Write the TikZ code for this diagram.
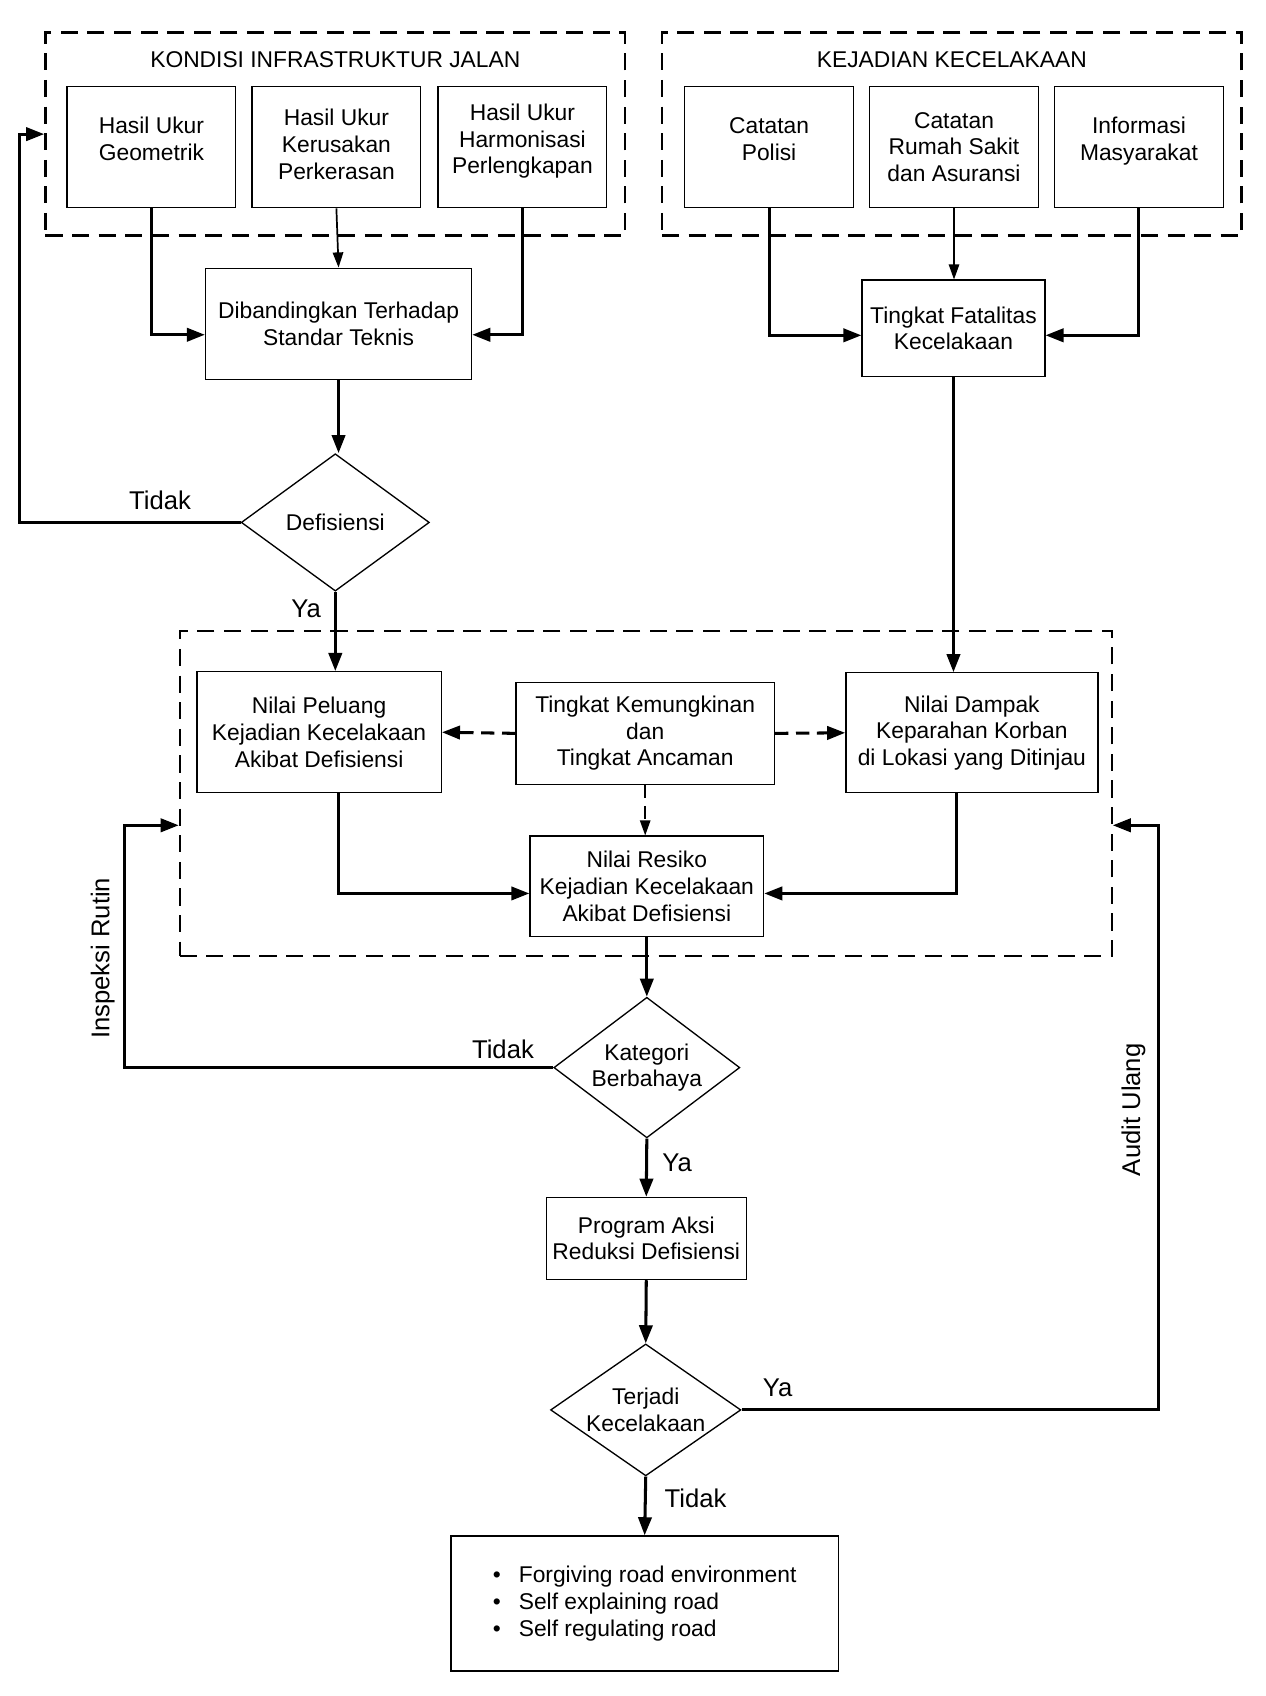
\documentclass[tikz,border=0pt]{standalone}
\usepackage{fontspec}
\setmainfont{Liberation Sans}
\usetikzlibrary{shapes.geometric,arrows.meta,positioning,calc}

\begin{document}
\begin{tikzpicture}[
    x=0.02cm, y=-0.02cm,
    box/.style={rectangle, draw, line width=0.7pt, align=center, font=\fontsize{12}{14}\selectfont, inner sep=2pt},
    decision/.style={diamond, draw, line width=0.7pt, aspect=1.4, inner sep=0pt, align=center, font=\fontsize{12}{14}\selectfont},
    group/.style={rectangle, draw, line width=1.4pt, dash pattern=on 9pt off 5pt},
    grouptitle/.style={font=\fontsize{12}{14}\selectfont},
    lbl/.style={font=\fontsize{13.5}{16}\selectfont},
    arrow/.style={-{Triangle[length=9.5pt, width=7pt]}, line width=1.6pt},
    thinarrow/.style={-{Triangle[length=8pt, width=5.5pt]}, line width=0.9pt},
    dasharrow/.style={dash pattern=on 7pt off 4pt}
]

\useasboundingbox (0,0) rectangle (1170,1568);

% Groups
\node[group, minimum width=10.72cm, minimum height=3.76cm] (infra) at (310,124) {};
\node[group, minimum width=10.72cm, minimum height=3.76cm] (kejadian) at (880,124) {};
\node[group, line width=1pt, minimum width=17.24cm, minimum height=6.02cm] (risk) at (597,733.5) {};

% Titles
\node[grouptitle] (infraT) at (310,55) {KONDISI INFRASTRUKTUR JALAN};
\node[grouptitle] (kejadianT) at (880,55) {KEJADIAN KECELAKAAN};

% Road condition
\node[box, minimum width=3.12cm, minimum height=2.24cm] (geom) at (140,136) {Hasil Ukur\\Geometrik\\[-5.5pt]};
\node[box, minimum width=3.12cm, minimum height=2.24cm] (kerus) at (311,136) {Hasil Ukur\\Kerusakan\\Perkerasan\\[-11pt]};
\node[box, minimum width=3.12cm, minimum height=2.24cm] (harmon) at (483,136) {Hasil Ukur\\Harmonisasi\\Perlengkapan\\[-5.5pt]};
\node[box, minimum width=4.92cm, minimum height=2.06cm] (banding) at (313,299.5) {Dibandingkan Terhadap\\Standar Teknis};

% Accident records
\node[box, minimum width=3.12cm, minimum height=2.24cm] (polisi) at (711,136) {Catatan\\Polisi\\[-5.5pt]};
\node[box, minimum width=3.12cm, minimum height=2.24cm] (rumah) at (882,136) {Catatan\\Rumah Sakit\\dan Asuransi};
\node[box, minimum width=3.12cm, minimum height=2.24cm] (masy) at (1053,136) {Informasi\\Masyarakat\\[-5.5pt]};
\node[box, minimum width=3.38cm, minimum height=1.78cm] (fatal) at (881.5,303.5) {Tingkat Fatalitas\\Kecelakaan};

% Deficiency check
\node[decision, minimum width=3.48cm, minimum height=2.54cm] (defis) at (310,483) {Defisiensi};

% Risk assessment
\node[box, minimum width=4.52cm, minimum height=2.24cm] (peluang) at (295,677) {Nilai Peluang\\Kejadian Kecelakaan\\Akibat Defisiensi};
\node[box, minimum width=4.78cm, minimum height=1.88cm] (tingkat) at (596.5,678) {Tingkat Kemungkinan\\dan\\Tingkat Ancaman};
\node[box, minimum width=4.66cm, minimum height=2.22cm] (dampak) at (898.5,677.5) {Nilai Dampak\\Keparahan Korban\\di Lokasi yang Ditinjau};
\node[box, minimum width=4.32cm, minimum height=1.86cm] (resiko) at (598,819.5) {Nilai Resiko\\Kejadian Kecelakaan\\Akibat Defisiensi};

% Action
\node[decision, minimum width=3.44cm, minimum height=2.6cm] (kat) at (598,987) {Kategori\\Berbahaya};
\node[box, minimum width=3.7cm, minimum height=1.52cm] (program) at (597.5,1145) {Program Aksi\\Reduksi Defisiensi};
\node[decision, minimum width=3.52cm, minimum height=2.44cm] (terjadi) at (597,1303.5) {Terjadi\\Kecelakaan};
\node[box, minimum width=7.16cm, minimum height=2.5cm, align=left] (hasil) at (596,1482.5) {%
\makebox[0.48cm][l]{\textbullet}Forgiving road environment\\
\makebox[0.48cm][l]{\textbullet}Self explaining road\\
\makebox[0.48cm][l]{\textbullet}Self regulating road};

% Bend points
\coordinate (tidakA) at (18,483);
\coordinate (inspA) at (115,763);
\coordinate (auditA) at (1071,763);

% Arrows
\draw[arrow] (geom.south) |- ([yshift=-0.2cm]banding.west);
\draw[thinarrow] (kerus.south) -- (banding.north);
\draw[arrow] (harmon.south) |- ([yshift=-0.2cm]banding.east);

\draw[arrow] (polisi.south) |- ([yshift=-0.13cm]fatal.west);
\draw[thinarrow] (rumah.south) -- (rumah.south |- fatal.north);
\draw[arrow] (masy.south) |- ([yshift=-0.13cm]fatal.east);

\draw[arrow] (banding.south) -- (banding.south |- defis.north);
\draw[arrow] (defis.west) -- (tidakA) |- (infra.west);
\draw[arrow] (defis.south) -- (defis.south |- peluang.north);
\draw[arrow] (fatal.south) -- (fatal.south |- dampak.north);

\draw[arrow, dasharrow] (tingkat.west) -- (peluang.east);
\draw[arrow, dasharrow] (tingkat.east) -- (dampak.west);
\draw[thinarrow, dasharrow] (tingkat.south) -- (tingkat.south |- resiko.north);
\draw[arrow] ([xshift=0.36cm]peluang.south) |- ([yshift=-0.13cm]resiko.west);
\draw[arrow] ([xshift=-0.28cm]dampak.south) |- ([yshift=-0.13cm]resiko.east);

\draw[arrow] (resiko.south) -- (kat.north);
\draw[arrow] (kat.west) -| (inspA) -- (inspA -| risk.west);
\draw[arrow] (kat.south) -- (program.north);
\draw[arrow] (program.south) -- (terjadi.north);
\draw[arrow] (terjadi.east) -| (auditA) -- (auditA -| risk.east);
\draw[arrow] (terjadi.south) -- (hasil.north);

% Labels
\node[lbl] (tidak1) at (148,463) {Tidak};
\node[lbl] (ya1) at (283,563) {Ya};
\node[lbl] (tidak2) at (465,970) {Tidak};
\node[lbl] (ya2) at (626,1075) {Ya};
\node[lbl] (ya3) at (719,1283) {Ya};
\node[lbl] (tidak3) at (643,1385) {Tidak};
\node[lbl, rotate=90] (inspeksi) at (95,886) {Inspeksi Rutin};
\node[lbl, rotate=90] (audit) at (1048,1026) {Audit Ulang};

\end{tikzpicture}
\end{document}
